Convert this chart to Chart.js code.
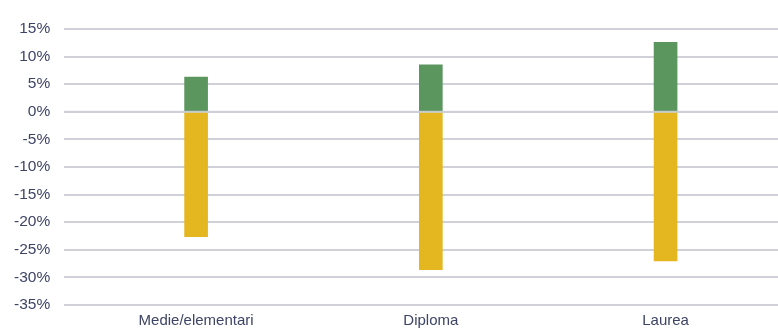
<!DOCTYPE html>
<html lang="it">
<head>
  <meta charset="UTF-8">
  <title>Grafico</title>
  <script src="https://cdn.jsdelivr.net/npm/chart.js"></script>
  <style>
    body { margin: 0; background: #fff; }
    #wrap { width: 778px; height: 329px; }
  </style>
</head>
<body>
<div id="wrap"><canvas id="chart" width="778" height="329"></canvas></div>
<script>
  const categorie = ['Medie/elementari', 'Diploma', 'Laurea'];
  const positivi = [6.3, 8.5, 12.6];
  const negativi = [-22.6, -28.6, -27.0];
  const yTicks = [15, 10, 5, 0, -5, -10, -15, -20, -25, -30, -35];

  const testo = '#3d4466';
  const griglia = '#cfd0d8';

  // linea dello zero sopra le barre
  const zeroLine = {
    id: 'zeroLine',
    afterDatasetsDraw(chart) {
      const { ctx, chartArea, scales } = chart;
      const y = scales.y.getPixelForValue(0);
      ctx.save();
      ctx.strokeStyle = 'rgba(205,206,216,0.7)';
      ctx.lineWidth = 2;
      ctx.beginPath();
      ctx.moveTo(chartArea.left, y);
      ctx.lineTo(chartArea.right, y);
      ctx.stroke();
      ctx.restore();
    }
  };

  new Chart(document.getElementById('chart'), {
    type: 'bar',
    data: {
      datasets: [
        {
          data: positivi.map((v, i) => ({ x: i, y: v })),
          backgroundColor: '#5b965e',
          barThickness: 23,
          grouped: false
        },
        {
          data: negativi.map((v, i) => ({ x: i, y: v })),
          backgroundColor: '#e4b720',
          barThickness: 23,
          grouped: false
        }
      ]
    },
    options: {
      responsive: false,
      animation: false,
      layout: { padding: { top: 29, right: 0, left: 0, bottom: 0 } },
      plugins: { legend: { display: false }, tooltip: { enabled: false } },
      scales: {
        x: {
          type: 'linear',
          offset: false,
          min: -0.562,
          max: 2.479,
          grid: { display: false, drawTicks: false },
          border: { display: false },
          afterBuildTicks: scale => { scale.ticks = categorie.map((_, i) => ({ value: i })); },
          afterFit: scale => { scale.height = 24; },
          ticks: {
            autoSkip: false,
            maxRotation: 0,
            padding: 7,
            color: testo,
            font: { family: 'Liberation Sans', size: 15 },
            callback: v => categorie[v]
          }
        },
        y: {
          min: -35,
          max: 15,
          afterBuildTicks: scale => { scale.ticks = yTicks.map(v => ({ value: v })); },
          grid: { color: griglia, lineWidth: 2, drawTicks: false },
          border: { display: false },
          ticks: {
            padding: 14,
            color: testo,
            font: { family: 'Liberation Sans', size: 15.5 },
            callback: v => v + '%'
          }
        }
      }
    },
    plugins: [zeroLine]
  });
</script>
</body>
</html>
